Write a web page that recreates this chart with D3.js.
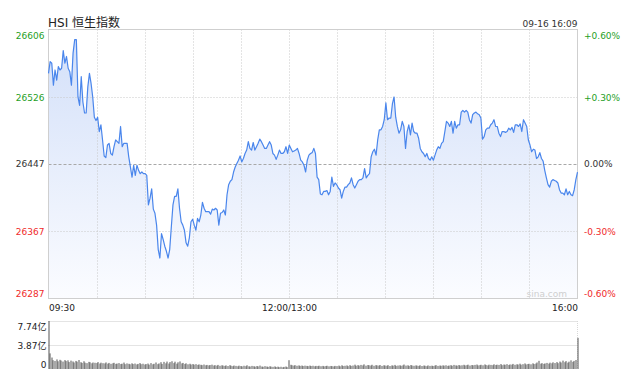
<!DOCTYPE html>
<html>
<head>
    <meta charset="utf-8">
    <title>HSI 恒生指数</title>
    <style type="text/css">
        body { margin: 0; background: #fff; }
        svg text { font-family: "DejaVu Sans", "Noto Sans CJK SC", sans-serif; }
    </style>
</head>
<body>
<svg id="chart" width="633" height="375"></svg>

<script src="https://cdn.jsdelivr.net/npm/d3@7"></script>
<script type="text/javascript">
    // 价格刻度 / 涨跌幅刻度
    var priceTicks = [26606, 26526, 26447, 26367, 26287];
    var pctTicks = ["+0.60%", "+0.30%", "0.00%", "-0.30%", "-0.60%"];
    // 时间轴 (距开盘分钟数)
    var timeTicks = [0, 150, 330];
    var timeLabels = ["09:30", "12:00/13:00", "16:00"];
    // 成交量刻度 (亿)
    var volTicks = [7.74, 3.87, 0];
    var volLabels = ["7.74亿", "3.87亿", "0"];

    // 分时价格
    var prices = [
        26554, 26568, 26566, 26540, 26558, 26546, 26562, 26558, 26560, 26581,
        26566, 26574, 26560, 26556, 26540, 26578, 26594, 26594, 26526, 26516,
        26550, 26520, 26507, 26507, 26538, 26554, 26542, 26526, 26502, 26498,
        26502, 26485, 26493, 26475, 26456, 26454, 26469, 26471, 26459, 26457,
        26467, 26475, 26473, 26471, 26491, 26467, 26471, 26471, 26471, 26455,
        26443, 26431, 26445, 26433, 26445, 26439, 26435, 26437, 26435, 26435,
        26433,
        26398, 26406, 26417, 26393, 26388, 26374, 26345, 26335,
        26364, 26357, 26349, 26343, 26335, 26345, 26372, 26398, 26408, 26408,
        26417, 26394, 26378, 26374, 26368, 26353, 26349, 26359, 26378, 26381,
        26374, 26368, 26382, 26378, 26386, 26401, 26394, 26390, 26390, 26390,
        26387, 26393, 26392, 26394, 26392, 26374, 26388, 26389, 26392, 26386,
        26410, 26422, 26426, 26428, 26437, 26443, 26447, 26451, 26456, 26449,
        26453, 26459, 26463, 26473, 26465, 26463, 26472, 26463, 26467, 26471,
        26476,
        26473, 26469, 26465, 26465, 26469, 26473, 26469, 26459, 26457, 26452,
        26457, 26463, 26459, 26459, 26461, 26467, 26459, 26469, 26465, 26461,
        26462, 26463, 26465, 26459, 26451, 26449, 26445, 26437, 26451, 26457,
        26459, 26460, 26465, 26459, 26431, 26428, 26411, 26410, 26414, 26414,
        26415, 26410, 26414, 26431, 26420, 26424, 26422, 26418, 26416, 26406,
        26414, 26419, 26419, 26422, 26424, 26430, 26422, 26418, 26422, 26426,
        26428, 26428, 26430, 26441,
        26430, 26433, 26435, 26455, 26461, 26464, 26457, 26475, 26487, 26487,
        26491, 26499, 26519, 26499, 26501, 26501, 26518, 26526, 26502, 26491,
        26483, 26487, 26497, 26491, 26465, 26485, 26493, 26481, 26495, 26485,
        26483, 26483, 26477, 26465, 26461, 26459, 26455, 26459, 26453, 26451,
        26455, 26451, 26457, 26463, 26467, 26465, 26471, 26473, 26485, 26497,
        26495, 26491, 26497, 26483, 26497, 26489, 26493, 26493, 26508, 26510,
        26508, 26510, 26508,
        26499, 26495, 26505, 26507, 26508, 26506, 26505, 26501, 26476, 26479,
        26487, 26489, 26489, 26493, 26495, 26499, 26491, 26491, 26483, 26479,
        26485, 26485, 26484, 26485, 26489, 26487, 26490, 26484, 26493, 26493,
        26491, 26494, 26485, 26499, 26495, 26491, 26475, 26469, 26461, 26464,
        26463, 26453, 26455, 26460, 26453, 26450, 26439, 26430, 26422, 26419,
        26426, 26428, 26427, 26426, 26424, 26416, 26412, 26412, 26410, 26417,
        26410, 26414, 26410, 26409, 26416, 26428, 26437
    ];

    // 每分钟成交量 (亿)
    var volumes = [
        7.74, 2.52, 1.85, 1.42, 1.30, 1.55, 1.25, 1.48, 1.36, 1.20,
        1.44, 1.28, 1.40, 1.12, 1.35, 1.22, 1.05, 1.30, 1.18, 1.45,
        1.10, 0.98, 1.25, 1.02, 0.95, 1.15, 1.08, 0.92, 1.05, 1.00,
        0.96, 1.12, 0.88, 1.02, 0.94, 0.90, 1.06, 0.86, 0.98, 0.84,
        0.92, 1.00, 0.82, 0.88, 0.95, 0.80, 0.86, 1.04, 0.78, 0.90,
        0.84, 0.76, 0.92, 0.80, 0.88, 0.74, 0.82, 0.96, 0.78, 0.85,
        0.72, 0.80, 0.88, 0.70, 0.95, 0.76, 0.84, 1.05, 0.78, 0.90,
        1.10, 0.82, 1.15, 0.92, 1.20, 0.88, 1.12, 1.25, 0.95, 1.18,
        0.86, 1.08, 1.22, 0.90, 0.98, 0.80, 0.92, 0.76, 0.85, 0.72,
        0.80, 0.70, 0.78, 0.66, 0.74, 0.68, 0.62, 0.72, 0.60, 0.66,
        0.58, 0.64, 0.70, 0.56, 0.62, 0.54, 0.66, 0.52, 0.60, 0.55,
        0.50, 0.58, 0.48, 0.62, 0.52, 0.46, 0.56, 0.50, 0.44, 0.54,
        0.48, 0.42, 0.52, 0.46, 0.60, 0.44, 0.40, 0.50, 0.45, 0.38,
        0.48, 0.42, 0.55, 0.40, 0.36, 0.46, 0.40, 0.34, 0.44, 0.38,
        0.35, 0.42, 0.32, 0.38, 0.30, 0.36, 0.28, 0.34, 0.40, 0.30,
        1.42, 0.68, 0.60, 0.55, 0.62, 0.52, 0.58, 0.50, 0.56, 0.48,
        0.54, 0.50, 0.46, 0.55, 0.48, 0.52, 0.44, 0.50, 0.47, 0.53,
        0.45, 0.50, 0.43, 0.48, 0.52, 0.44, 0.49, 0.46, 0.42, 0.50,
        0.47, 0.55, 0.44, 0.60, 0.48, 0.52, 0.58, 0.46, 0.62, 0.50,
        0.56, 0.70, 0.52, 0.62, 0.55, 0.66, 0.58, 0.75, 0.54, 0.64,
        0.60, 0.56, 0.68, 0.52, 0.62, 0.58, 0.55, 0.64, 0.50, 0.60,
        0.56, 0.52, 0.62, 0.48, 0.58, 0.54, 0.66, 0.50, 0.56, 0.60,
        0.52, 0.58, 0.72, 0.55, 0.60, 0.50, 0.64, 0.56, 0.52, 0.58,
        0.54, 0.50, 0.60, 0.48, 0.56, 0.52, 0.46, 0.58, 0.50, 0.54,
        0.48, 0.55, 0.62, 0.50, 0.56, 0.52, 0.58, 0.54, 0.60, 0.50,
        0.56, 0.62, 0.52, 0.66, 0.58, 0.54, 0.64, 0.56, 0.60, 0.68,
        0.58, 0.62, 0.70, 0.56, 0.64, 0.60, 0.66, 0.72, 0.58, 0.62,
        0.68, 0.60, 0.74, 0.64, 0.58, 0.70, 0.66, 0.62, 0.76, 0.64,
        0.70, 0.66, 0.80, 0.62, 0.72, 0.68, 0.78, 0.64, 0.74, 0.70,
        0.82, 0.68, 0.76, 0.72, 0.86, 0.70, 0.78, 0.90, 0.74, 0.80,
        0.84, 0.76, 0.92, 0.80, 0.88, 1.05, 1.32, 0.86, 0.94, 0.82,
        0.90, 0.98, 0.86, 1.02, 0.92, 1.08, 0.96, 1.12, 0.94, 1.20,
        1.05, 1.35, 1.10, 1.28, 1.02, 1.18, 1.40, 1.15, 1.30, 1.45,
        5.02
    ];

    var plotLeft = 48.5, plotRight = 577.5;
    var plotTop = 29.5, plotBottom = 298.5;
    var volTop = 321, volBottom = 369;

    var upColor = "#1fa01f", downColor = "#f02a2a", flatColor = "#333";

    var svg = d3.select("#chart");

    //比例尺
    var xMin = d3.scaleLinear().domain([0, 330]).range([plotLeft, plotRight]);
    var xPt = d3.scaleLinear().domain([0, prices.length - 1]).range([plotLeft, plotRight]);
    var y = d3.scaleLinear().domain([26287, 26606]).range([plotBottom, plotTop]);
    var yVol = d3.scaleLinear().domain([0, 7.74]).range([volBottom, volTop]);

    function tickColor(i) {
        return i < 2 ? upColor : (i === 2 ? flatColor : downColor);
    }

    //标题
    svg.append("text")
        .attr("x", 48).attr("y", 27)
        .attr("font-size", 12).attr("fill", "#222")
        .text("HSI 恒生指数");
    svg.append("text")
        .attr("x", plotRight).attr("y", 27)
        .attr("text-anchor", "end")
        .attr("font-size", 9).attr("fill", "#333")
        .text("09-16 16:09");

    //渐变填充
    var grad = svg.append("defs").append("linearGradient")
        .attr("id", "fillGrad")
        .attr("gradientUnits", "userSpaceOnUse")
        .attr("x1", 0).attr("y1", plotTop).attr("x2", 0).attr("y2", plotBottom);
    grad.append("stop").attr("offset", 0).attr("stop-color", "#d2dff9");
    grad.append("stop").attr("offset", 1).attr("stop-color", "#fbfcff");

    var area = d3.area()
        .x(function (d, i) { return xPt(i); })
        .y0(plotBottom)
        .y1(function (d) { return y(d); });

    svg.append("path")
        .datum(prices)
        .attr("d", area)
        .attr("fill", "url(#fillGrad)");

    //网格
    var vGrid = d3.range(1, 11).map(function (i) { return i * 30; });
    svg.append("g").selectAll("line")
        .data(vGrid)
        .enter().append("line")
        .attr("x1", function (d) { return Math.round(xMin(d)) + 0.5; })
        .attr("x2", function (d) { return Math.round(xMin(d)) + 0.5; })
        .attr("y1", plotTop).attr("y2", plotBottom)
        .attr("stroke", "#c8c8c8")
        .attr("stroke-dasharray", "1,2");

    svg.append("g").selectAll("line")
        .data(priceTicks.slice(1, 4))
        .enter().append("line")
        .attr("x1", plotLeft).attr("x2", plotRight)
        .attr("y1", function (d) { return Math.round(y(d)) + 0.5; })
        .attr("y2", function (d) { return Math.round(y(d)) + 0.5; })
        .attr("stroke", function (d, i) { return i === 1 ? "#a8a8a8" : "#c8c8c8"; })
        .attr("stroke-dasharray", function (d, i) { return i === 1 ? "3,2" : "1,2"; });

    //边框
    svg.append("rect")
        .attr("x", plotLeft).attr("y", plotTop)
        .attr("width", plotRight - plotLeft).attr("height", plotBottom - plotTop)
        .attr("fill", "none")
        .attr("stroke", "#cfcfcf");

    //价格线
    var line = d3.line()
        .x(function (d, i) { return xPt(i); })
        .y(function (d) { return y(d); });

    svg.append("path")
        .datum(prices)
        .attr("d", line)
        .attr("fill", "none")
        .attr("stroke", "#4a86ec")
        .attr("stroke-width", 1.2)
        .attr("stroke-linejoin", "round");

    //水印
    svg.append("text")
        .attr("x", 567).attr("y", 296.5)
        .attr("text-anchor", "end")
        .attr("font-size", 9).attr("fill", "#cfcfcf")
        .text("sina.com");

    //左轴 价格
    var axL = svg.append("g")
        .attr("transform", "translate(44.5,0)")
        .call(d3.axisLeft(y).tickValues(priceTicks).tickSize(0).tickPadding(0)
            .tickFormat(d3.format("d")));
    axL.select(".domain").remove();
    axL.attr("font-size", 9).attr("font-family", null);
    axL.selectAll(".tick text")
        .attr("fill", function (d, i) { return tickColor(i); })
        .attr("dy", function (d, i) { return i === 0 ? "1.03em" : (i === 4 ? "-0.24em" : "0.36em"); });

    //右轴 涨跌幅
    var axR = svg.append("g")
        .attr("transform", "translate(584,0)")
        .call(d3.axisRight(y).tickValues(priceTicks).tickSize(0).tickPadding(0)
            .tickFormat(function (d, i) { return pctTicks[i]; }));
    axR.select(".domain").remove();
    axR.attr("font-size", 9).attr("font-family", null);
    axR.selectAll(".tick text")
        .attr("fill", function (d, i) { return tickColor(i); })
        .attr("dy", function (d, i) { return i === 0 ? "1.03em" : (i === 4 ? "-0.24em" : "0.36em"); });

    //时间轴
    var axB = svg.append("g")
        .attr("transform", "translate(0," + 302 + ")")
        .call(d3.axisBottom(xMin).tickValues(timeTicks).tickSize(0).tickPadding(0)
            .tickFormat(function (d, i) { return timeLabels[i]; }));
    axB.select(".domain").remove();
    axB.attr("font-size", 9).attr("font-family", null);
    axB.selectAll(".tick text")
        .attr("fill", "#222")
        .attr("dy", "0.98em")
        .attr("text-anchor", function (d, i) { return i === 0 ? "start" : (i === 2 ? "end" : "middle"); });

    //成交量
    svg.append("g").selectAll("line")
        .data(volTicks.slice(0, 2))
        .enter().append("line")
        .attr("x1", plotLeft).attr("x2", plotRight)
        .attr("y1", function (d) { return Math.round(yVol(d)) + 0.5; })
        .attr("y2", function (d) { return Math.round(yVol(d)) + 0.5; })
        .attr("stroke", "#c8c8c8")
        .attr("stroke-dasharray", "1,1");
    svg.append("line")
        .attr("x1", plotRight).attr("x2", plotRight)
        .attr("y1", volTop).attr("y2", volBottom)
        .attr("stroke", "#d8d8d8")
        .attr("stroke-dasharray", "1,1");

    svg.append("g").selectAll("rect")
        .data(volumes)
        .enter().append("rect")
        .attr("x", function (d, i) { return Math.round(xMin(i)) - 0.5; })
        .attr("width", 1)
        .attr("y", function (d) { return yVol(d); })
        .attr("height", function (d) { return volBottom - yVol(d); })
        .attr("fill", "#555");

    var axV = svg.append("g")
        .attr("transform", "translate(46.5,0)")
        .call(d3.axisLeft(yVol).tickValues(volTicks).tickSize(0).tickPadding(0)
            .tickFormat(function (d, i) { return volLabels[i]; }));
    axV.select(".domain").remove();
    axV.attr("font-size", 9).attr("font-family", null);
    axV.selectAll(".tick text")
        .attr("fill", "#222")
        .attr("dy", function (d, i) { return i === 0 ? "0.96em" : (i === 2 ? "-0.14em" : "0.36em"); });
</script>
</body>
</html>
